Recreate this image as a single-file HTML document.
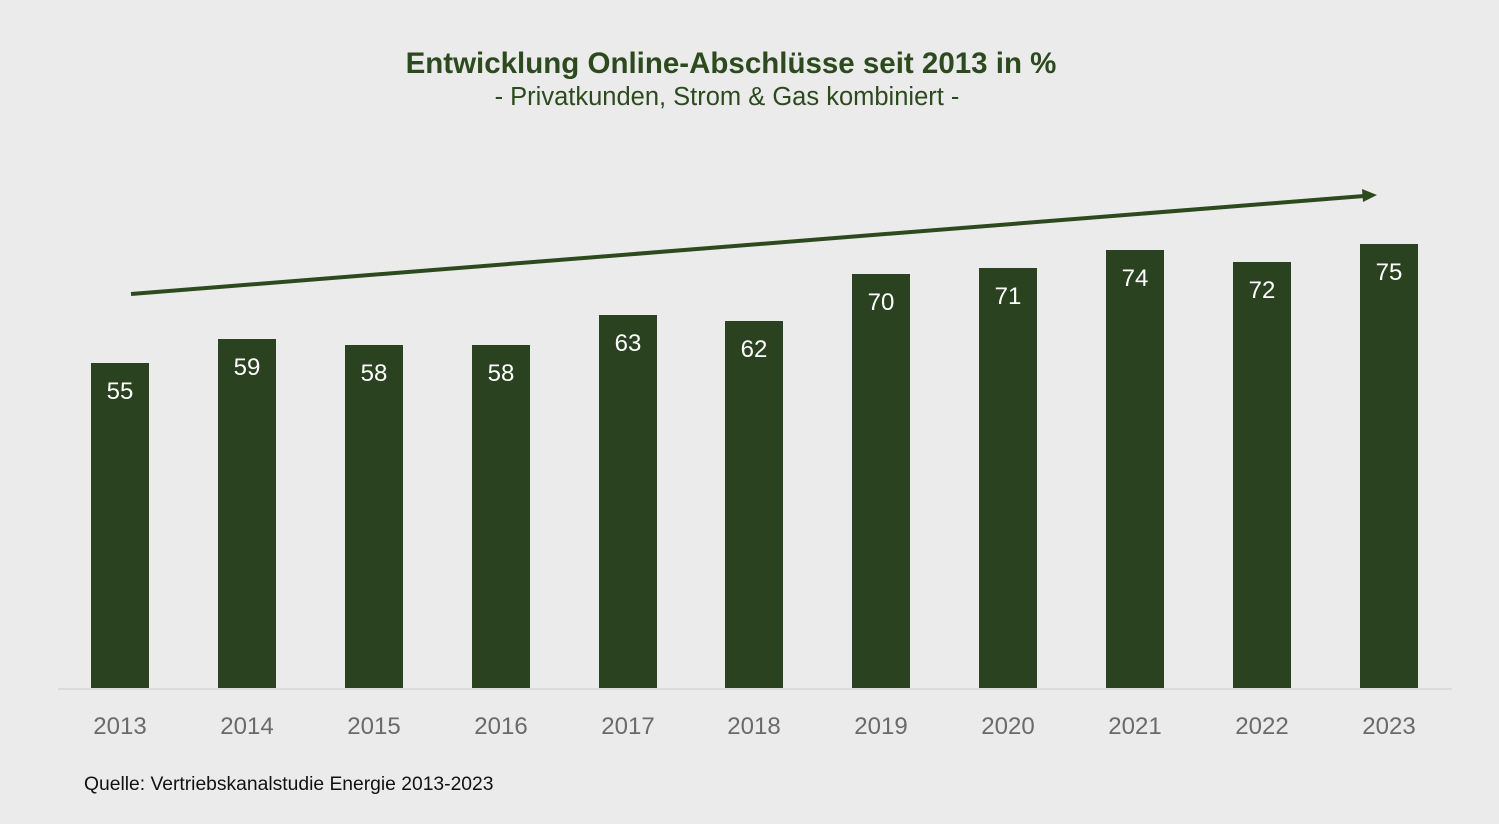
<!DOCTYPE html>
<html><head><meta charset="utf-8"><style>
html,body{margin:0;padding:0;background:#ebebeb;}
body{width:1499px;height:819px;overflow:hidden;font-family:"Liberation Sans",sans-serif;}
</style></head><body>
<svg width="1499" height="819" xmlns="http://www.w3.org/2000/svg">
<rect width="1499" height="819" fill="#ebebeb"/>
<text x="731" y="73" text-anchor="middle" font-family="Liberation Sans, sans-serif" font-weight="bold" font-size="29.5" fill="#2d4a1e">Entwicklung Online-Abschlüsse seit 2013 in %</text>
<text x="727" y="105" text-anchor="middle" font-family="Liberation Sans, sans-serif" font-size="25.5" fill="#2d4a1e">- Privatkunden, Strom &amp; Gas kombiniert -</text>
<line x1="58" y1="689" x2="1452" y2="689" stroke="#d6d6d6" stroke-width="1.5"/>
<g fill="#2b4220">
<rect x="91" y="363" width="58" height="325"/>
<rect x="218" y="339" width="58" height="349"/>
<rect x="345" y="345" width="58" height="343"/>
<rect x="472" y="345" width="58" height="343"/>
<rect x="599" y="315" width="58" height="373"/>
<rect x="725" y="321" width="58" height="367"/>
<rect x="852" y="274" width="58" height="414"/>
<rect x="979" y="268" width="58" height="420"/>
<rect x="1106" y="250" width="58" height="438"/>
<rect x="1233" y="262" width="58" height="426"/>
<rect x="1360" y="244" width="58" height="444"/>
</g>
<g font-family="Liberation Sans, sans-serif" font-size="24" fill="#ffffff" text-anchor="middle">
<text x="120" y="399">55</text><text x="247" y="375">59</text><text x="374" y="381">58</text>
<text x="501" y="381">58</text><text x="628" y="351">63</text><text x="754" y="357">62</text>
<text x="881" y="310">70</text><text x="1008" y="304">71</text><text x="1135" y="286">74</text>
<text x="1262" y="298">72</text><text x="1389" y="280">75</text>
</g>
<g font-family="Liberation Sans, sans-serif" font-size="24" fill="#6a6a6a" text-anchor="middle">
<text x="120" y="734">2013</text><text x="247" y="734">2014</text><text x="374" y="734">2015</text>
<text x="501" y="734">2016</text><text x="628" y="734">2017</text><text x="754" y="734">2018</text>
<text x="881" y="734">2019</text><text x="1008" y="734">2020</text><text x="1135" y="734">2021</text>
<text x="1262" y="734">2022</text><text x="1389" y="734">2023</text>
</g>
<line x1="131" y1="294" x2="1364" y2="196" stroke="#2d4a1e" stroke-width="4"/>
<polygon points="1377,195 1362,189 1363,202" fill="#2d4a1e"/>
<text x="84" y="790" font-family="Liberation Sans, sans-serif" font-size="19.3" fill="#111">Quelle: Vertriebskanalstudie Energie 2013-2023</text>
</svg>
</body></html>
